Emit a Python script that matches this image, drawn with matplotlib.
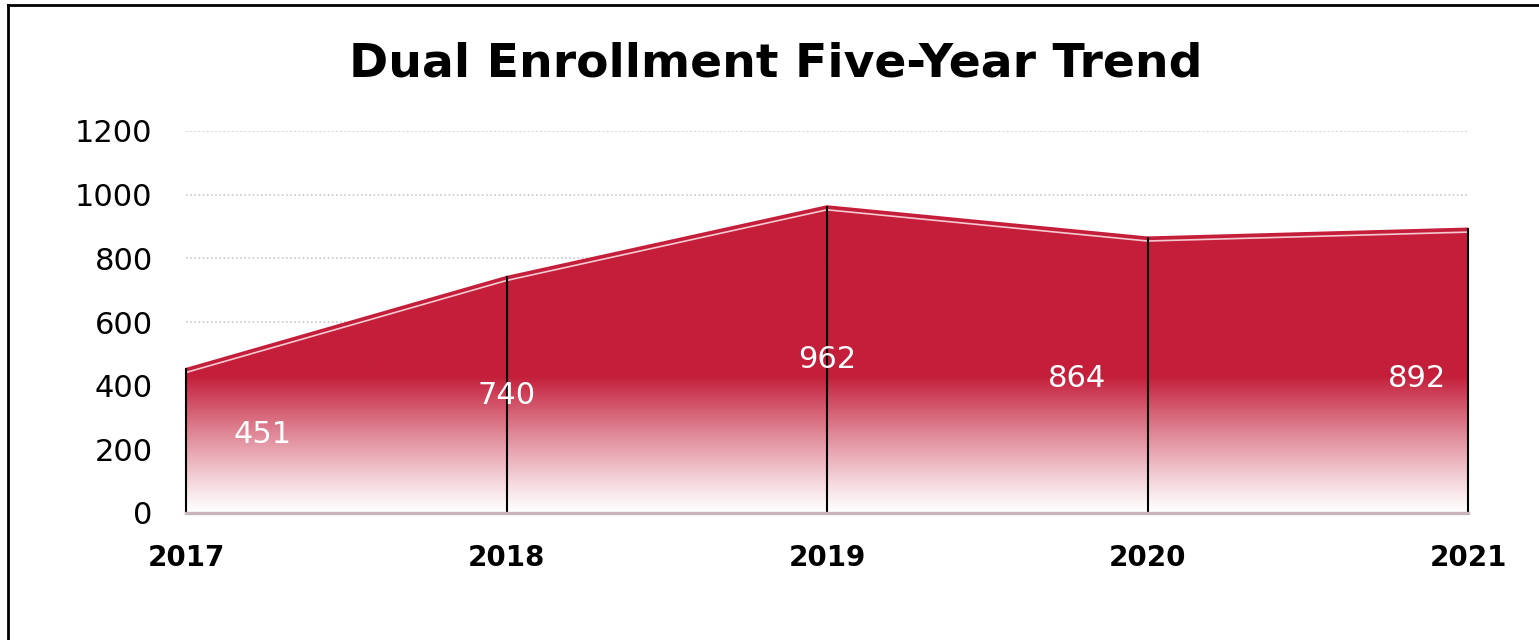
import numpy as np
import matplotlib.pyplot as plt
import matplotlib.transforms as mtransforms
from matplotlib.lines import Line2D

# data
years = [2017, 2018, 2019, 2020, 2021]
enrollment = [451, 740, 962, 864, 892]
yticks = [0, 200, 400, 600, 800, 1000, 1200]

COL_RED = (196/255, 30/255, 58/255)
FONT = 'DejaVu Sans'

fig = plt.figure(figsize=(15.39, 6.4), dpi=100)
ax = fig.add_axes([186/1539, 1 - 513/640, (1468 - 186)/1539, (513 - 131)/640])
ax.set_xlim(years[0], years[-1])
ax.set_ylim(0, 1200)

# gridlines (dotted)
for v in yticks[1:]:
    ax.axhline(v, color='#c8c8c8', lw=1.2, ls=(0, (1, 1.5)), zorder=0)

# gradient fill clipped to the area
ny = 400
yy = np.linspace(0, 1200, ny)
t = np.clip(yy / 430.0, 0, 1) ** 1.15
img = np.ones((ny, 2, 3))
for c in range(3):
    img[:, :, c] = (1 - t[:, None]) * 1.0 + t[:, None] * COL_RED[c]
poly = ax.fill_between(years, 0, enrollment, color='none', lw=0, zorder=1)
im = ax.imshow(img, extent=[years[0], years[-1], 0, 1200], origin='lower',
               aspect='auto', zorder=1, interpolation='bilinear')
im.set_clip_path(poly.get_paths()[0], transform=ax.transData)

# top edge: red line with pale highlight just below
ax.plot(years, enrollment, color=COL_RED, lw=2.2, zorder=3, solid_capstyle='butt')
off = mtransforms.offset_copy(ax.transData, fig=fig, x=0, y=-2.2, units='points')
ax.plot(years, enrollment, color='#f4c9d0', lw=1.2, zorder=3, transform=off)

# vertical black lines
for x, v in zip(years, enrollment):
    ax.add_line(Line2D([x, x], [0, v], color='black', lw=1.5, zorder=4, clip_on=False))

# baseline
ax.axhline(0, color='#c9b6ba', lw=2.4, zorder=5, clip_on=False)

# value labels
label_dx = [0.24, 0.0, 0.0, -0.22, -0.16]
label_dy = [20, -2, 0, -8, -22]
for x, v, dx, dy in zip(years, enrollment, label_dx, label_dy):
    ax.text(x + dx, v / 2 + dy, str(v), color='white', fontsize=22,
            fontfamily=FONT, ha='center', va='center', zorder=6)

for s in ax.spines.values():
    s.set_visible(False)
ax.set_xticks(years)
ax.set_xticklabels([str(y) for y in years], fontsize=20, fontweight='bold', fontfamily=FONT)
ax.set_yticks(yticks)
ax.set_yticklabels([str(v) for v in yticks], fontsize=22, fontfamily=FONT)
ax.tick_params(axis='x', length=0, pad=22)
ax.tick_params(axis='y', length=0, pad=24)

fig.text(776/1539, 1 - 64/640, 'Dual Enrollment Five-Year Trend', fontsize=34,
         fontweight='bold', fontfamily=FONT, ha='center', va='center')

# outer frame (left and top visible)
fig.add_artist(Line2D([8/1539, 8/1539], [0, 1 - 5/640], color='black', lw=2,
                      transform=fig.transFigure))
fig.add_artist(Line2D([8/1539, 1], [1 - 5/640, 1 - 5/640], color='black', lw=2,
                      transform=fig.transFigure))

fig.savefig('out.png', dpi=100)
